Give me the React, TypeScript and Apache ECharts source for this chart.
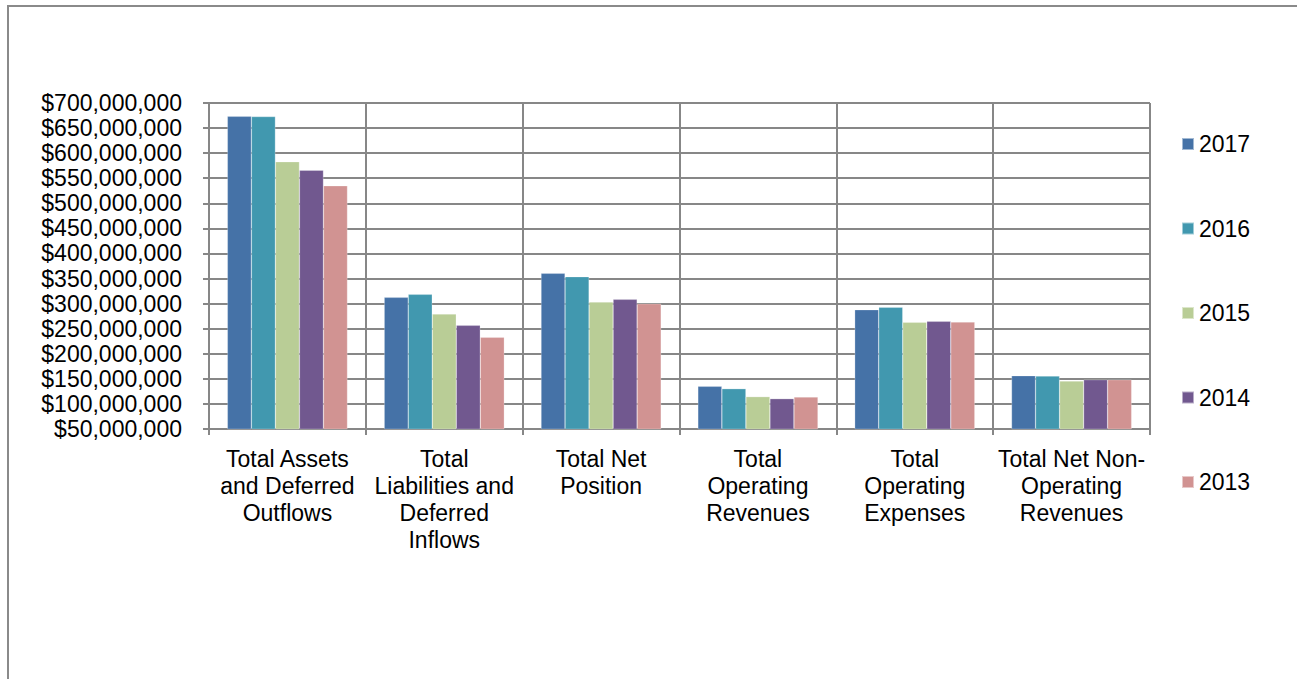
import React, { useEffect, useRef } from "react";
import * as echarts from "echarts";

const categories = [
  "Total Assets\nand Deferred\nOutflows",
  "Total\nLiabilities and\nDeferred\nInflows",
  "Total Net\nPosition",
  "Total\nOperating\nRevenues",
  "Total\nOperating\nExpenses",
  "Total Net Non-\nOperating\nRevenues",
];

const years = ["2017", "2016", "2015", "2014", "2013"];
const colors = ["#4572A7", "#4198AF", "#B9CD96", "#71588F", "#D19392"];

const v2017 = [673400000, 312500000, 360400000, 135100000, 287900000, 156300000];
const v2016 = [673000000, 318500000, 353700000, 130400000, 292600000, 155600000];
const v2015 = [583000000, 279300000, 303200000, 114500000, 262700000, 145700000];
const v2014 = [566000000, 256700000, 308500000, 110500000, 264700000, 148400000];
const v2013 = [535000000, 232800000, 299900000, 113800000, 263300000, 148400000];
const seriesValues = [v2017, v2016, v2015, v2014, v2013];

const yMin = 50000000;
const yMax = 700000000;
const yInterval = 50000000;

const fmt = (v: number) => "$" + Math.round(v).toString().replace(/\B(?=(\d{3})+(?!\d))/g, ",");

export default function App() {
  const ref = useRef<HTMLDivElement>(null);
  useEffect(() => {
    if (!ref.current) return;
    const chart = echarts.init(ref.current, null, { renderer: "svg" });
    const gridColor = "#878787";
    const font = "Liberation Sans, Arial, sans-serif";
    chart.setOption({
      animation: false,
      backgroundColor: "#ffffff",
      textStyle: { fontFamily: font },
      graphic: [
        {
          type: "rect",
          shape: { x: 8, y: 6, width: 1320, height: 700 },
          style: { fill: "none", stroke: "#8a8a8a", lineWidth: 2 },
          silent: true,
        },
      ],
      grid: { left: 209, top: 103, right: 147, bottom: 250, containLabel: false },
      legend: {
        orient: "vertical",
        left: 1176,
        top: 127,
        itemWidth: 12,
        itemHeight: 12,
        itemGap: 60.5,
        icon: "rect",
        data: years,
        textStyle: { fontSize: 23, lineHeight: 24, color: "#000", fontFamily: font },
      },
      xAxis: {
        type: "category",
        data: categories,
        boundaryGap: true,
        axisLine: { show: true, lineStyle: { color: gridColor, width: 2 } },
        axisTick: { show: true, length: 6, alignWithLabel: false, lineStyle: { color: gridColor, width: 2 } },
        splitLine: { show: true, lineStyle: { color: gridColor, width: 2 } },
        axisLabel: {
          interval: 0,
          margin: 16,
          fontSize: 23,
          lineHeight: 27,
          color: "#000",
          fontFamily: font,
          verticalAlign: "top",
        },
      },
      yAxis: {
        type: "value",
        min: yMin,
        max: yMax,
        interval: yInterval,
        axisLine: { show: true, lineStyle: { color: gridColor, width: 2 } },
        axisTick: { show: true, length: 6, lineStyle: { color: gridColor, width: 2 } },
        splitLine: { show: true, lineStyle: { color: gridColor, width: 2 } },
        axisLabel: {
          margin: 27,
          fontSize: 23,
          color: "#000",
          fontFamily: font,
          formatter: (v: number) => fmt(v),
        },
      },
      series: years.map((y, i) => ({
        name: y,
        type: "bar",
        data: seriesValues[i],
        barGap: "0%",
        barCategoryGap: "23.4%",
        itemStyle: { color: colors[i], borderColor: "rgba(255,255,255,0.5)", borderWidth: 0.5 },
      })),
    });
    return () => chart.dispose();
  }, []);
  return (
    <div
      ref={ref}
      style={{ position: "fixed", left: 0, top: 0, width: 1297, height: 679, background: "#fff" }}
    />
  );
}
